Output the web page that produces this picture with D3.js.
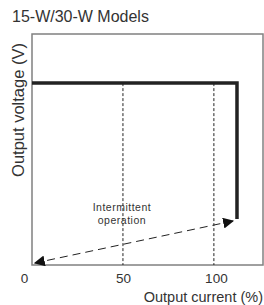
<!DOCTYPE html>
<html>
<head>
<meta charset="utf-8">
<script src="https://cdn.jsdelivr.net/npm/d3@7"></script>
<style>
  body { margin: 0; background: #fff; }
  svg { display: block; font-family: "Liberation Sans", Arial, sans-serif; }
</style>
</head>
<body>
<script>
// chart data
const title = '15-W/30-W Models';
const xLabel = 'Output current (%)';
const yLabel = 'Output voltage (V)';
const xTicks = [0, 50, 100];
const gridAt = [50, 100];
// characteristic curve: current (%) vs voltage (% of rated)
const curveCurrent = [0, 112.7, 112.7];
const curveVoltage = [100, 100, 25.3];
// intermittent operation arrow (both ends)
const arrowCurrent = [110.5, 1.6];
const arrowVoltage = [24.2, 1.1];
const noteLines = ['Intermittent', 'operation'];

const width = 264, height = 305;
const margin = { top: 34, right: 1, bottom: 40, left: 32 };

const svg = d3.select('body').append('svg')
    .attr('width', width)
    .attr('height', height);

const x = d3.scaleLinear()
    .domain([0, 127])
    .range([margin.left, width - margin.right]);

const y = d3.scaleLinear()
    .domain([0, 127])
    .range([height - margin.bottom, margin.top]);

// arrow head marker
svg.append('defs').append('marker')
    .attr('id', 'head')
    .attr('viewBox', '0 0 10 10')
    .attr('refX', 9)
    .attr('refY', 5)
    .attr('markerWidth', 11)
    .attr('markerHeight', 11)
    .attr('markerUnits', 'userSpaceOnUse')
    .attr('orient', 'auto-start-reverse')
    .append('path')
    .attr('d', 'M0,0 L10,5 L0,10 Z')
    .attr('fill', '#111');

// frame
svg.append('rect')
    .attr('x', x(0))
    .attr('y', y(127))
    .attr('width', x(127) - x(0))
    .attr('height', y(0) - y(127))
    .attr('fill', 'none')
    .attr('stroke', '#808080')
    .attr('stroke-width', 1.5);

// dashed reference lines
svg.selectAll('.grid')
    .data(gridAt)
    .enter()
    .append('line')
    .attr('x1', d => x(d))
    .attr('x2', d => x(d))
    .attr('y1', y(100))
    .attr('y2', y(0))
    .attr('stroke', '#222')
    .attr('stroke-width', 1)
    .attr('stroke-dasharray', '3,2');

// x tick labels
const xAxis = svg.append('g')
    .attr('transform', `translate(0,${y(0)})`)
    .call(d3.axisBottom(x).tickValues(xTicks).tickSize(0).tickPadding(8));
xAxis.select('.domain').remove();
xAxis.selectAll('text')
    .attr('font-size', 13.5)
    .attr('font-family', '"Liberation Sans", Arial, sans-serif')
    .attr('fill', '#333')
    .attr('dx', d => d === 0 ? -8 : (d === 100 ? 2 : 0));

// curve
const curve = curveCurrent.map((c, i) => [c, curveVoltage[i]]);
svg.append('path')
    .datum(curve)
    .attr('d', d3.line().x(d => x(d[0])).y(d => y(d[1])))
    .attr('fill', 'none')
    .attr('stroke', '#222')
    .attr('stroke-width', 3.5);

// intermittent operation arrow
const arrow = arrowCurrent.map((c, i) => [c, arrowVoltage[i]]);
svg.append('path')
    .datum(arrow)
    .attr('d', d3.line().x(d => x(d[0])).y(d => y(d[1])))
    .attr('fill', 'none')
    .attr('stroke', '#222')
    .attr('stroke-width', 1)
    .attr('stroke-dasharray', '8,5')
    .attr('marker-start', 'url(#head)')
    .attr('marker-end', 'url(#head)');

svg.append('text')
    .attr('x', x(50))
    .attr('y', 211)
    .attr('text-anchor', 'middle')
    .attr('font-size', 10.5)
    .attr('letter-spacing', 0.5)
    .attr('fill', '#333')
    .selectAll('tspan')
    .data(noteLines)
    .enter()
    .append('tspan')
    .attr('x', x(50) - 1)
    .attr('dy', (d, i) => i === 0 ? 0 : 12.5)
    .text(d => d);

// title and axis labels
svg.append('text')
    .attr('x', 12)
    .attr('y', 22)
    .attr('font-size', 16)
    .attr('fill', '#333')
    .text(title);

svg.append('text')
    .attr('x', width - 1)
    .attr('y', 302)
    .attr('text-anchor', 'end')
    .attr('font-size', 14.5)
    .attr('fill', '#333')
    .text(xLabel);

svg.append('text')
    .attr('transform', `translate(24,${110}) rotate(-90)`)
    .attr('text-anchor', 'middle')
    .attr('font-size', 16.5)
    .attr('fill', '#333')
    .text(yLabel);
</script>
</body>
</html>
